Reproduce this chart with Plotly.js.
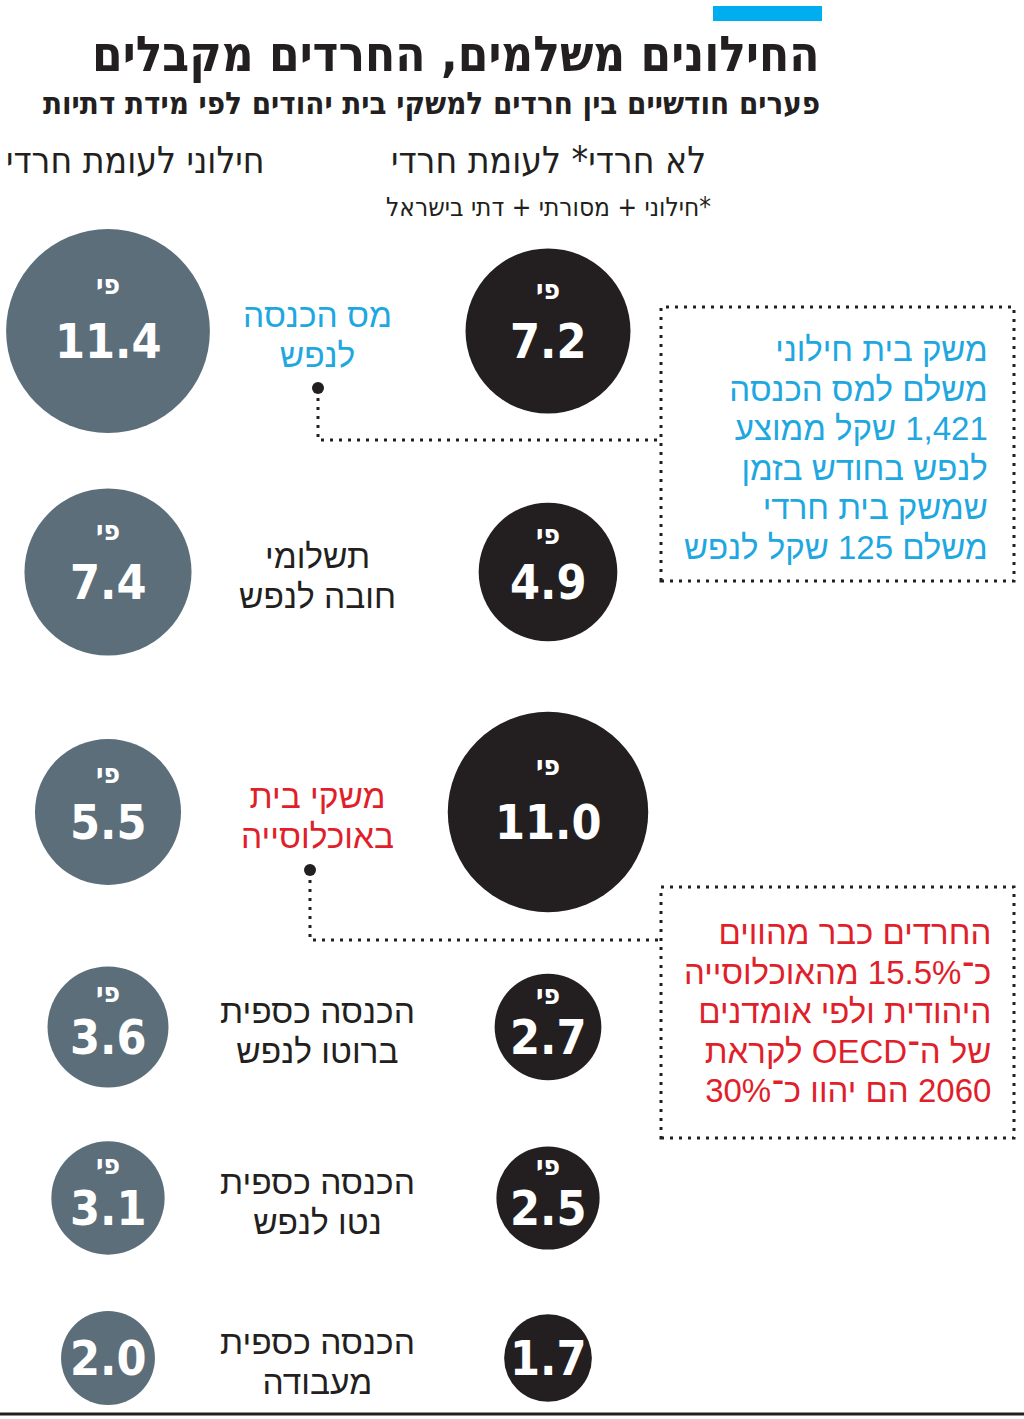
<!DOCTYPE html>
<html><head><meta charset="utf-8">
<script src="https://cdn.plot.ly/plotly-3.0.1.min.js"></script>
<style>html,body{margin:0;padding:0;background:#fff;overflow:hidden}</style>
</head><body><div id="chart" style="width:1024px;height:1419px"></div>
<script>
// ---------- data ----------
const metrics = ['מס הכנסה לנפש', 'תשלומי חובה לנפש', 'משקי בית באוכלוסייה', 'הכנסה כספית ברוטו לנפש', 'הכנסה כספית נטו לנפש', 'הכנסה כספית מעבודה'];
const metricLines = [['מס הכנסה', 'לנפש'], ['תשלומי', 'חובה לנפש'], ['משקי בית', 'באוכלוסייה'], ['הכנסה כספית', 'ברוטו לנפש'], ['הכנסה כספית', 'נטו לנפש'], ['הכנסה כספית', 'מעבודה']];
const groups = ['חילוני לעומת חרדי', 'לא חרדי* לעומת חרדי'];
const secularVsHaredi = [11.4, 7.4, 5.5, 3.6, 3.1, 2.0];
const nonHarediVsHaredi = [7.2, 4.9, 11.0, 2.7, 2.5, 1.7];
const showTimes = [true, true, true, true, true, false];
const timesWord = 'פי';
const titleText = 'החילונים משלמים, החרדים מקבלים';
const subtitleText = 'פערים חודשיים בין חרדים למשקי בית יהודים לפי מידת דתיות';
const footnoteText = '*חילוני + מסורתי + דתי בישראל';
const note1Lines = ['משק בית חילוני', 'משלם למס הכנסה', '1,421 שקל ממוצע', 'לנפש בחודש בזמן', 'שמשק בית חרדי', 'משלם 125 שקל לנפש'];
const note2Lines = ['החרדים כבר מהווים', 'כ־15.5% מהאוכלוסייה', 'היהודית ולפי אומדנים', 'של ה־OECD לקראת', '2060 הם יהוו כ־30%'];

// ---------- layout helpers ----------
const W = 1024, H = 1419;
const px = x => x / W;
const py = y => 1 - y / H;
const rtl = s => '\u202B' + s + '\u202C';
const rowCenters = [331, 572, 812, 1027, 1198, 1358];
const colors = ['#5b6e7a', '#231f20'];
const labelColors = ['#1ea7e0', '#231f20', '#e01f2b', '#231f20', '#231f20', '#231f20'];
const heFont = '"Liberation Sans", "DejaVu Sans", sans-serif';
const condFont = '"DejaVu Sans Condensed", "Liberation Sans Narrow", "DejaVu Sans", sans-serif';
const diam = v => 14.7 + 56 * Math.sqrt(v);
// base size sets the line spacing (1.3em); glyphs drawn larger
const BASE_SIZE = 30.4;
const block = (lines, g) => lines.map(l => '<span style="font-size:' + g + 'px">' + rtl(l) + '</span>').join('<br>');

const traces = [];
const annotations = [];
const layout = {
  width: W, height: H, margin: {l: 0, r: 0, t: 0, b: 0},
  paper_bgcolor: '#ffffff', plot_bgcolor: 'rgba(0,0,0,0)', showlegend: false,
  xaxis: {type: 'category', categoryarray: groups, range: [-108 / 440, (W - 108) / 440], visible: false, fixedrange: true},
};

metrics.forEach((m, k) => {
  const yName = 'y' + (k ? k + 1 : '');
  const axKey = 'yaxis' + (k ? k + 1 : '');
  const c = rowCenters[k];
  layout[axKey] = {type: 'category', categoryarray: [m], range: [-0.5, 0.5], domain: [py(c + 40), py(c - 40)], visible: false, anchor: 'x', fixedrange: true};
  const vals = [secularVsHaredi[k], nonHarediVsHaredi[k]];
  traces.push({
    type: 'scatter', mode: 'markers', x: groups, y: [m, m], xaxis: 'x', yaxis: yName,
    cliponaxis: false, hoverinfo: 'skip',
    marker: {size: vals.map(diam), color: colors, line: {width: 0}, opacity: 1}
  });
  vals.forEach((v, j) => {
    const d = diam(v);
    const hasTimes = showTimes[k];
    annotations.push({
      x: groups[j], y: m, xref: 'x', yref: yName, showarrow: false,
      text: v.toFixed(1), yshift: hasTimes ? -10 : 0,
      font: {family: condFont, size: 48, color: '#ffffff', weight: 700},
      xanchor: 'center', yanchor: 'middle'
    });
    if (hasTimes) annotations.push({
      x: groups[j], y: m, xref: 'x', yref: yName, showarrow: false,
      text: rtl(timesWord), yshift: 33 + (d - 107) * 0.14,
      font: {family: condFont, size: 28, color: '#ffffff', weight: 700},
      xanchor: 'center', yanchor: 'middle'
    });
  });
  annotations.push({
    x: px(317), xref: 'paper', y: m, yref: yName, yshift: -4, showarrow: false,
    text: block(metricLines[k], 33.5), align: 'center', xanchor: 'center', yanchor: 'middle',
    font: {family: heFont, size: BASE_SIZE, color: labelColors[k]}
  });
});

// titles and headers
annotations.push(
  {x: px(822), y: py(55), xref: 'paper', yref: 'paper', xanchor: 'right', yanchor: 'middle', showarrow: false,
   text: rtl(titleText), font: {family: condFont, size: 49, color: '#231f20', weight: 700}},
  {x: px(822), y: py(103), xref: 'paper', yref: 'paper', xanchor: 'right', yanchor: 'middle', showarrow: false,
   text: rtl(subtitleText), font: {family: condFont, size: 31, color: '#231f20', weight: 700}},
  {x: px(548), y: py(160), xref: 'paper', yref: 'paper', xanchor: 'center', yanchor: 'middle', showarrow: false,
   text: rtl(groups[1]), font: {family: condFont, size: 37, color: '#231f20'}},
  {x: px(135), y: py(160), xref: 'paper', yref: 'paper', xanchor: 'center', yanchor: 'middle', showarrow: false,
   text: rtl(groups[0]), font: {family: condFont, size: 37, color: '#231f20'}},
  {x: px(548), y: py(207), xref: 'paper', yref: 'paper', xanchor: 'center', yanchor: 'middle', showarrow: false,
   text: rtl(footnoteText), font: {family: condFont, size: 26, color: '#231f20'}},
  {x: px(990), y: py(449), xref: 'paper', yref: 'paper', xanchor: 'right', yanchor: 'middle', showarrow: false, align: 'right',
   text: block(note1Lines, 33), font: {family: heFont, size: BASE_SIZE, color: '#1ea7e0'}},
  {x: px(993), y: py(1011), xref: 'paper', yref: 'paper', xanchor: 'right', yanchor: 'middle', showarrow: false, align: 'right',
   text: block(note2Lines, 33), font: {family: heFont, size: BASE_SIZE, color: '#e01f2b'}}
);
layout.annotations = annotations;

const dotLine = {color: '#231f20', width: 3, dash: '3px,6px'};
const P = (pts) => 'M' + pts.map(p => px(p[0]) + ',' + py(p[1])).join('L');
layout.shapes = [
  {type: 'rect', xref: 'paper', yref: 'paper', x0: px(713), x1: px(822), y0: py(21), y1: py(6), fillcolor: '#00aeef', line: {width: 0}},
  {type: 'rect', xref: 'paper', yref: 'paper', x0: px(661), x1: px(1014), y0: py(581), y1: py(307), line: dotLine},
  {type: 'rect', xref: 'paper', yref: 'paper', x0: px(661), x1: px(1014), y0: py(1138), y1: py(887), line: dotLine},
  {type: 'path', xref: 'paper', yref: 'paper', path: P([[318, 398], [318, 440], [661, 440]]), line: dotLine},
  {type: 'path', xref: 'paper', yref: 'paper', path: P([[310, 880], [310, 940], [661, 940]]), line: dotLine},
  {type: 'circle', xref: 'paper', yref: 'paper', x0: px(312), x1: px(324), y0: py(394), y1: py(382), fillcolor: '#231f20', line: {width: 0}},
  {type: 'circle', xref: 'paper', yref: 'paper', x0: px(304), x1: px(316), y0: py(876), y1: py(864), fillcolor: '#231f20', line: {width: 0}},
  {type: 'line', xref: 'paper', yref: 'paper', x0: 0, x1: 1, y0: py(1414), y1: py(1414), line: {color: '#231f20', width: 3}}
];

Plotly.newPlot('chart', traces, layout, {displayModeBar: false, staticPlot: true});
</script>
</body></html>
